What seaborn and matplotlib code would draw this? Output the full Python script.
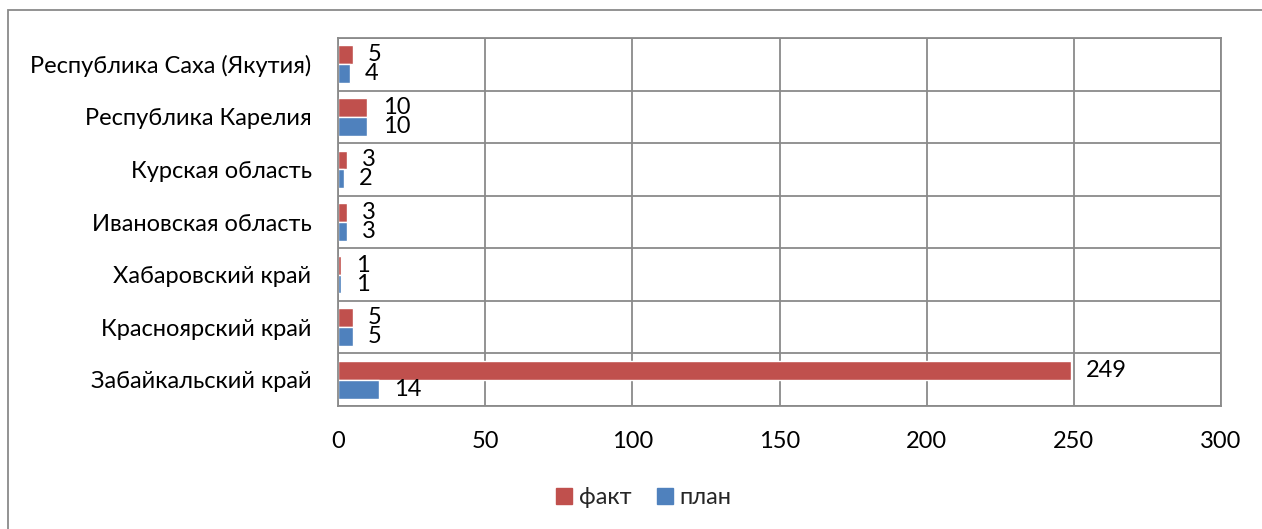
import matplotlib
matplotlib.use("Agg")
import matplotlib.pyplot as plt
from matplotlib.patches import Rectangle, Patch
import seaborn as sns
import pandas as pd

regions = [
    "Республика Саха (Якутия)",
    "Республика Карелия",
    "Курская область",
    "Ивановская область",
    "Хабаровский край",
    "Красноярский край",
    "Забайкальский край",
]
fact = [5, 10, 3, 3, 1, 5, 249]
plan = [4, 10, 2, 3, 1, 5, 14]
series = ["факт", "план"]
colors = ["#C0504D", "#4F81BD"]
x_ticks = [0, 50, 100, 150, 200, 250, 300]

df = pd.DataFrame({
    "region": regions * 2,
    "series": [series[0]] * len(regions) + [series[1]] * len(regions),
    "value": fact + plan,
})

sns.set_theme(style="white")
plt.rcParams["font.family"] = ["Lato", "DejaVu Sans"]
FS = 17
GRID = "#8a8a8a"

fig = plt.figure(figsize=(12.62, 5.29), dpi=100)
ax = fig.add_axes([338 / 1262, 1 - 406 / 529, (1221 - 338) / 1262, (406 - 38) / 529])

sns.barplot(data=df, y="region", x="value", hue="series", order=regions,
            hue_order=series, palette=colors, orient="h", width=0.72,
            saturation=1, legend=False, ax=ax)

for cont in ax.containers:
    ax.bar_label(cont, padding=11, fontsize=FS, color="black")

ax.set_xlim(x_ticks[0], x_ticks[-1])
ax.set_xticks(x_ticks)
ax.set_xticklabels([str(t) for t in x_ticks])
ax.set_ylim(len(regions) - 0.5, -0.5)
ax.set_xlabel("")
ax.set_ylabel("")
ax.tick_params(axis="both", length=0, labelsize=FS, colors="black")
ax.tick_params(axis="y", pad=19)
ax.tick_params(axis="x", pad=18)

ax.set_yticks([i - 0.5 for i in range(len(regions) + 1)], minor=True)
ax.grid(True, axis="x", color=GRID, linewidth=1.3)
ax.grid(True, axis="y", which="minor", color=GRID, linewidth=1.3)
ax.grid(False, axis="y", which="major")
ax.tick_params(axis="y", which="minor", length=0)
ax.set_axisbelow(True)
for s in ax.spines.values():
    s.set_visible(True)
    s.set_color(GRID)
    s.set_linewidth(1.3)

handles = [Patch(facecolor=c, edgecolor=c) for c in colors]
fig.legend(handles, series, loc="center", bbox_to_anchor=(644 / 1262, 1 - 498 / 529),
           ncol=2, frameon=False, fontsize=FS, handlelength=0.65, handleheight=0.65,
           handletextpad=0.3, columnspacing=1.1)

# outer chart frame
fig.patches.append(Rectangle((8 / 1262, -0.05), 1.2, 1 - 10 / 529 + 0.05,
                             transform=fig.transFigure, fill=False,
                             edgecolor=GRID, linewidth=1.3))

# tail of the document line above the chart
fig.text(12 / 1262, 1 + 9 / 529, "распределены (рис. 3)", fontsize=21,
         family="Liberation Serif", va="baseline", ha="left", color="black")

fig.savefig("out.png", dpi=100)
